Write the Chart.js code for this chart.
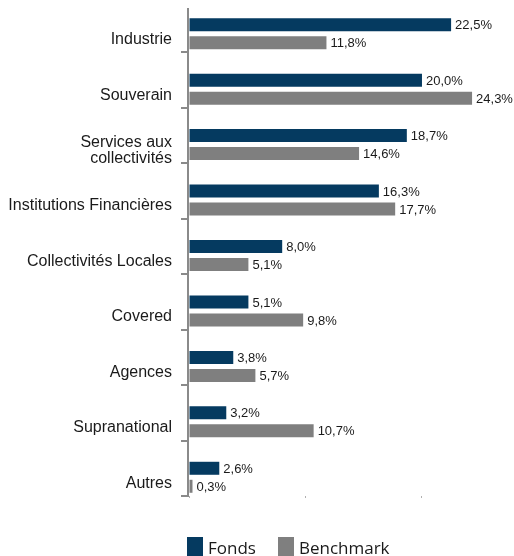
<!DOCTYPE html>
<html>
<head>
<meta charset="utf-8">
<script src="https://cdn.jsdelivr.net/npm/chart.js@4"></script>
<style>
  html, body { margin: 0; padding: 0; background: #fff; overflow: hidden; }
  #wrap { position: relative; width: 514px; height: 556px; overflow: hidden; }
  #cbox { position: absolute; left: 0; top: -3px; width: 514px; height: 559px; }
  #legend { position: absolute; left: 187px; top: 537px; display: flex; align-items: flex-start;
            font-family: "Open Sans", sans-serif; font-size: 17px; color: #1a1a1a; }
  .item { display: flex; align-items: flex-start; margin-right: 22px; }
  .box { width: 16px; height: 20px; margin-right: 5px; }
  .txt { line-height: 20px; position: relative; top: 1px; white-space: nowrap; }
</style>
</head>
<body>
<div id="wrap">
  <div id="cbox"><canvas id="c"></canvas></div>
  <div id="legend"></div>
</div>
<script>
const categories = [
  'Industrie',
  'Souverain',
  ['Services aux', 'collectivités'],
  'Institutions Financières',
  'Collectivités Locales',
  'Covered',
  'Agences',
  'Supranational',
  'Autres'
];
const seriesNames = ['Fonds', 'Benchmark'];
const fondsValues = [22.5, 20.0, 18.7, 16.3, 8.0, 5.1, 3.8, 3.2, 2.6];
const benchmarkValues = [11.8, 24.3, 14.6, 17.7, 5.1, 9.8, 5.7, 10.7, 0.3];
const xTicks = [0, 10, 20];
const seriesColors = ['#053A60', '#7F7F7F'];

function fmt(v) { return v.toFixed(1).replace('.', ',') + '%'; }

const valueLabels = {
  id: 'valueLabels',
  afterDatasetsDraw(chart) {
    const ctx = chart.ctx;
    ctx.save();
    ctx.font = '13px "Liberation Sans", Arial, sans-serif';
    ctx.fillStyle = '#1a1a1a';
    ctx.textBaseline = 'middle';
    ctx.textAlign = 'left';
    chart.data.datasets.forEach((ds, di) => {
      if (ds.spacer) return;
      chart.getDatasetMeta(di).data.forEach((bar, i) => {
        const v = ds.data[i];
        if (v == null) return;
        ctx.fillText(fmt(v), bar.x + 4, bar.y + 1);
      });
    });
    ctx.restore();
  }
};

const axisLine = {
  id: 'axisLine',
  afterDatasetsDraw(chart) {
    const ctx = chart.ctx, a = chart.chartArea;
    ctx.save();
    ctx.strokeStyle = '#8a8a8a';
    ctx.lineWidth = 2;
    ctx.beginPath();
    ctx.moveTo(a.left - 1, 11);
    ctx.lineTo(a.left - 1, a.bottom);
    ctx.stroke();
    ctx.restore();
  }
};

new Chart(document.getElementById('c'), {
  type: 'bar',
  data: {
    labels: categories,
    datasets: [
      { label: '', spacer: true, data: categories.map(() => null), backgroundColor: 'rgba(0,0,0,0)' },
      { label: seriesNames[0], data: fondsValues, backgroundColor: seriesColors[0] },
      { label: seriesNames[1], data: benchmarkValues, backgroundColor: seriesColors[1] }
    ]
  },
  options: {
    indexAxis: 'y',
    responsive: true,
    maintainAspectRatio: false,
    animation: false,
    datasets: { bar: { categoryPercentage: 0.974, barPercentage: 0.722 } },
    layout: { padding: { top: 0, left: 8, right: 0, bottom: 58 } },
    plugins: { legend: { display: false }, tooltip: { enabled: false } },
    scales: {
      x: {
        min: 0, max: 27.9,
        afterBuildTicks(scale) { scale.ticks = xTicks.map(v => ({ value: v })); },
        afterFit(scale) { scale.paddingLeft = 0; scale.paddingRight = 0; },
        ticks: { display: false },
        grid: { drawOnChartArea: false, drawTicks: true, tickLength: 2, color: '#b0b0b0', lineWidth: 1 },
        border: { display: false }
      },
      y: {
        afterFit(scale) {
          scale.width = 181;
          scale.paddingTop = 0;
          scale.paddingBottom = 0;
        },
        ticks: {
          color: '#1a1a1a',
          font: { family: '"Liberation Sans", Arial, sans-serif', size: 16, lineHeight: 1.0 },
          padding: 9,
          labelOffset: 15,
          autoSkip: false
        },
        grid: {
          drawOnChartArea: false, drawTicks: true, tickLength: 8, lineWidth: 2, offset: true,
          color: (c) => (c.index === categories.length ? 'rgba(0,0,0,0)' : '#8a8a8a')
        },
        border: { display: false }
      }
    }
  },
  plugins: [valueLabels, axisLine]
});

const legendEl = document.getElementById('legend');
seriesNames.forEach((name, i) => {
  const item = document.createElement('div');
  item.className = 'item';
  const box = document.createElement('div');
  box.className = 'box';
  box.style.background = seriesColors[i];
  const txt = document.createElement('span');
  txt.className = 'txt';
  txt.textContent = name;
  item.appendChild(box);
  item.appendChild(txt);
  legendEl.appendChild(item);
});
</script>
</body>
</html>
